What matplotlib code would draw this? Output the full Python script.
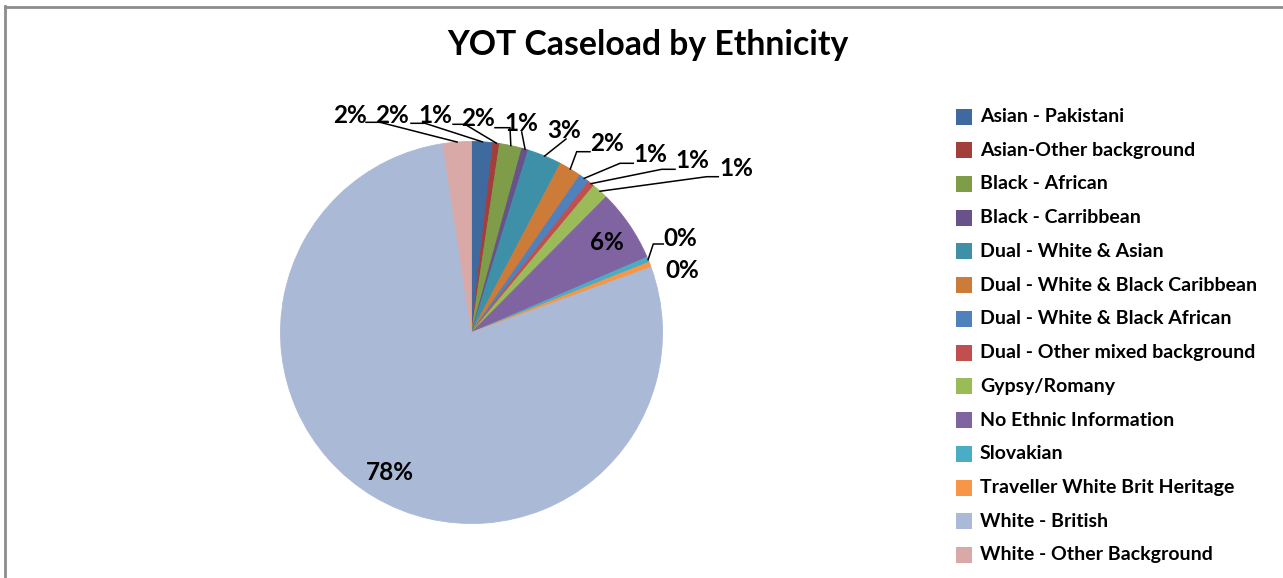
import math
import matplotlib
matplotlib.use("Agg")
import matplotlib.pyplot as plt
from matplotlib.patches import Rectangle
from matplotlib.lines import Line2D

# ---------------- data ----------------
categories = [
    "Asian - Pakistani",
    "Asian-Other background",
    "Black - African",
    "Black - Carribbean",
    "Dual - White & Asian",
    "Dual - White & Black Caribbean",
    "Dual - White & Black African",
    "Dual - Other mixed background",
    "Gypsy/Romany",
    "No Ethnic Information",
    "Slovakian",
    "Traveller White Brit Heritage",
    "White - British",
    "White - Other Background",
]
values = [1.8, 0.55, 1.9, 0.55, 2.9, 1.9, 0.9, 0.55, 1.4, 6.1, 0.45, 0.45, 78.15, 2.4]
colors = [
    "#3E6A9F", "#A23F3C", "#7F9C48", "#67528A", "#3D90A8", "#CC7B38",
    "#4F81BD", "#C0504D", "#9BBB59", "#8064A2", "#4BACC6", "#F79646",
    "#AAB9D6", "#D9A9A8",
]
title = "YOT Caseload by Ethnicity"

# ---------------- layout (pixels) ----------------
W, H = 1283, 578
DPI = 100
CX, CY, R = 471.5, 332.5, 191.0

# label layout: text centre, and optional leader path (elbow, end) in px
label_layout = [
    ((391.7, 115.5), [(425.0, 123.3), (411.0, 123.3)]),   # Asian - Pakistani
    ((435.0, 115.5), [(465.0, 124.3), (453.0, 124.3)]),   # Asian-Other
    ((478.0, 118.3), [(510.0, 127.7), (495.0, 127.7)]),   # Black - African
    ((521.7, 123.3), [(521.7, 132.0)]),                   # Black - Carribbean
    ((564.0, 130.7), [(566.0, 139.0)]),                   # Dual W & A
    ((606.7, 143.3), [(576.7, 151.7), (590.0, 151.7)]),   # Dual W & BC
    ((650.5, 155.0), [(620.0, 163.3), (633.3, 163.3)]),   # Dual W & BA
    ((692.5, 160.0), [(661.7, 169.3), (675.0, 169.3)]),   # Dual other
    ((736.0, 168.3), [(706.7, 176.7), (718.3, 176.7)]),   # Gypsy
    ((607.0, 242.0), None),                               # No Ethnic (inside)
    ((680.0, 238.3), [(653.3, 244.0), (663.3, 244.0)]),   # Slovakian
    ((682.5, 270.0), None),                               # Traveller
    ((390.0, 473.0), None),                               # White - British (inside)
    ((349.5, 115.5), [(380.0, 122.3), (366.0, 122.3)]),   # White - Other
]

FONT = ["Lato", "DejaVu Sans"]

fig = plt.figure(figsize=(W / DPI, H / DPI), dpi=DPI)
fig.patch.set_facecolor("white")

# pie axes placed so that data units = radius
ax = fig.add_axes([(CX - R) / W, (H - CY - R) / H, 2 * R / W, 2 * R / H])
ax.set_axis_off()

wedges, _ = ax.pie(values, colors=colors, startangle=90, counterclock=False,
                   radius=1.0, center=(0, 0), frame=False,
                   wedgeprops=dict(linewidth=0.6, antialiased=True))
for w, c in zip(wedges, colors):
    w.set_edgecolor(c)
ax.set_xlim(-1, 1)
ax.set_ylim(-1, 1)
ax.set_aspect("auto")


def px2data(p):
    return ((p[0] - CX) / R, (CY - p[1]) / R)


total = sum(values)
for w, v, (tpos, path) in zip(wedges, values, label_layout):
    pct = 100.0 * v / total
    txt = "%d%%" % int(math.floor(pct + 0.5 + 1e-9))
    tx, ty = px2data(tpos)
    ax.text(tx, ty, txt, ha="center", va="center", fontsize=17.5,
            fontweight="bold", family=FONT, color="black", clip_on=False)
    if path:
        mid = math.radians((w.theta1 + w.theta2) / 2.0)
        pts = [(math.cos(mid), math.sin(mid))] + [px2data(p) for p in path]
        ax.add_line(Line2D([p[0] for p in pts], [p[1] for p in pts],
                           color="black", linewidth=1.1, clip_on=False,
                           solid_joinstyle="miter"))

# title
fig.text(647.5 / W, 1 - 45 / H, title, ha="center", va="center",
         fontsize=24.3, fontweight="bold", family=FONT, color="black")

# legend (manual)
LEG_X_SW, LEG_X_TXT, LEG_Y0, LEG_DY, SW = 956.0, 980.0, 116.5, 33.73, 16.0
for i, (cat, col) in enumerate(zip(categories, colors)):
    yc = LEG_Y0 + i * LEG_DY
    fig.patches.append(Rectangle((LEG_X_SW / W, 1 - (yc + SW / 2) / H),
                                 SW / W, SW / H, transform=fig.transFigure,
                                 facecolor=col, edgecolor="none"))
    fig.text(LEG_X_TXT / W, 1 - yc / H, cat, ha="left", va="center",
             fontsize=14.0, fontweight="bold", family=FONT, color="black")

# chart border (top and left visible)
fig.add_artist(Line2D([4.5 / W, 1.0], [1 - 7 / H, 1 - 7 / H],
                      transform=fig.transFigure, color="#8C8C8C", linewidth=2.0))
fig.add_artist(Line2D([5 / W, 5 / W], [1 - 6 / H, 0.0],
                      transform=fig.transFigure, color="#8C8C8C", linewidth=2.0))

fig.savefig("out.png", dpi=DPI, facecolor="white")
